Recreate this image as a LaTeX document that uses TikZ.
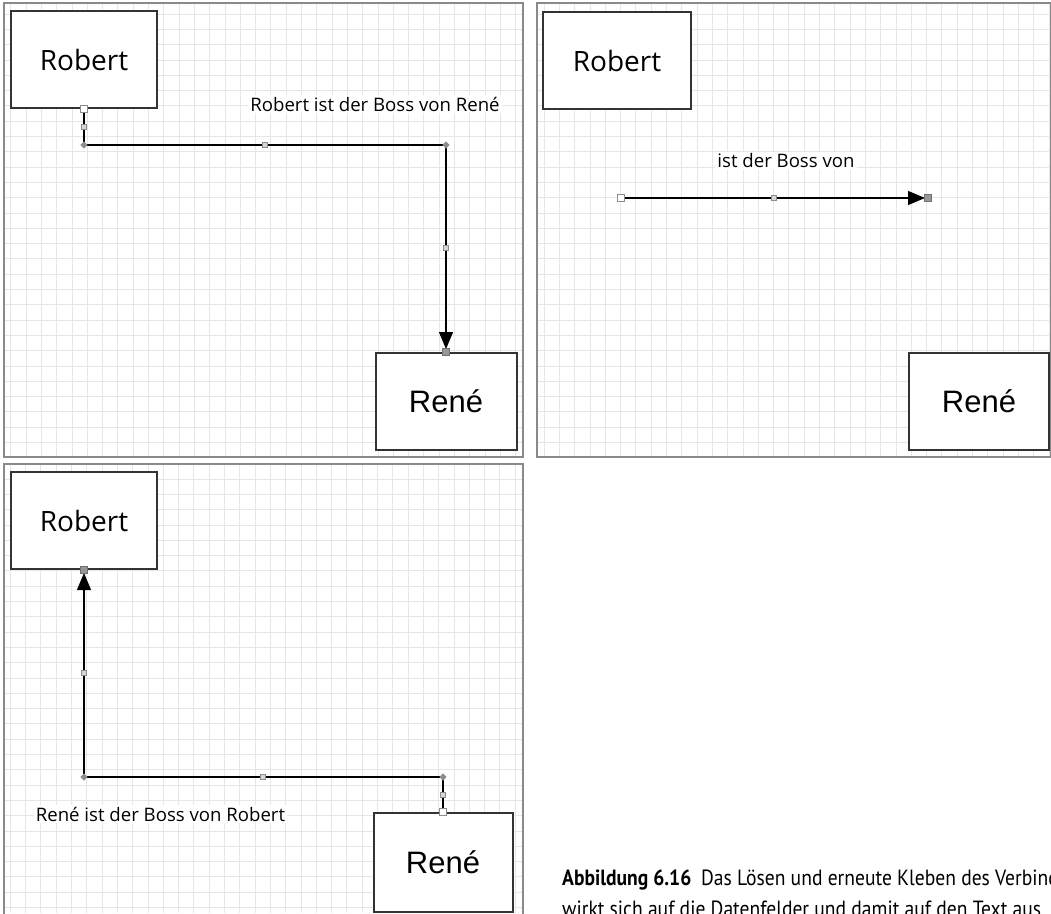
\documentclass[tikz,border=0pt]{standalone}
\usepackage{fontspec}
\setmainfont{Open Sans}
\newfontfamily\arialf{Liberation Sans}
\newfontfamily\capf{PT Sans}
\usetikzlibrary{arrows.meta}
\definecolor{gridc}{HTML}{E6E6E6}
\definecolor{framec}{HTML}{8A8A8A}
\definecolor{boxc}{HTML}{333333}
\definecolor{handc}{HTML}{8C8C8C}
\definecolor{handf}{HTML}{BDBDBD}
\tikzset{
  gridline/.style={draw=gridc, line width=0.8pt},
  panel/.style={draw=framec, line width=1.2pt},
  shapebox/.style={draw=boxc, line width=2pt, fill=white, inner sep=0pt},
  robtext/.style={font=\fontsize{28}{32}\selectfont},
  rentext/.style={font=\arialf\fontsize{31}{35}\selectfont},
  conn/.style={draw=black, line width=1.1pt},
  tip/.style={-{Triangle[length=17pt,width=14pt]}},
  lbl/.style={fill=white, inner sep=2pt, font=\fontsize{18.6}{22}\selectfont},
  hwhite/.style={draw=handc, fill=white, line width=0.9pt, minimum size=7pt, inner sep=0pt},
  hsmall/.style={draw=handc, fill=handf!60, line width=0.7pt, minimum size=5pt, inner sep=0pt},
  hdiam/.style={fill=handc, rotate=45, minimum size=5pt, inner sep=0pt},
  hend/.style={draw=handc!80!black, fill=handc!90, line width=0.7pt, minimum size=7pt, inner sep=0pt},
  captext/.style={anchor=base west, inner sep=0pt, font=\capf\fontsize{22}{26}\selectfont},
}
\begin{document}
\begin{tikzpicture}[x=1pt,y=-1pt]
\useasboundingbox (0,0) rectangle (1051,913);
\clip (0,0) rectangle (1051,913);
\fill[white] (0,0) rectangle (1051,913);

% ---------- grids ----------
\begin{scope}
  \clip (4,3) rectangle (523,457);
  \foreach \i in {0,...,34} {\draw[gridline] ({10.7+15.3*\i},3) -- ({10.7+15.3*\i},457);}
  \foreach \j in {-1,...,30} {\draw[gridline] (4,{14+15.3*\j}) -- (523,{14+15.3*\j});}
\end{scope}
\begin{scope}
  \clip (537,3) rectangle (1051,457);
  \foreach \i in {0,...,34} {\draw[gridline] ({544+15.3*\i},3) -- ({544+15.3*\i},457);}
  \foreach \j in {-1,...,30} {\draw[gridline] (537,{14+15.3*\j}) -- (1051,{14+15.3*\j});}
\end{scope}
\begin{scope}
  \clip (4,464) rectangle (523,913);
  \foreach \i in {0,...,34} {\draw[gridline] ({10.2+15.3*\i},464) -- ({10.2+15.3*\i},913);}
  \foreach \j in {0,...,30} {\draw[gridline] (4,{479+15.3*\j}) -- (523,{479+15.3*\j});}
\end{scope}

% ---------- panel frames ----------
\draw[panel] (4,3) rectangle (523,457);
\draw[panel] (537,3) rectangle (1050.4,457);
\draw[panel] (4,464) rectangle (523,920);

% ---------- panel 1 ----------
\node[shapebox, minimum width=146pt, minimum height=97pt, robtext] (rob1) at (84,59.5) {Robert};
\node[shapebox, minimum width=141pt, minimum height=97pt, rentext] (ren1) at (446,401.5) {René};
\coordinate (c1a) at (84,145);
\coordinate (c1b) at (446,145);
\draw[conn, tip, shorten >=3pt] (rob1.south) -- (c1a) -- (c1b) -- (ren1.north);
\node[lbl] (lbl1) at (375,104) {Robert ist der Boss von René};
\node[hwhite] (h1a) at (rob1.south) {};
\node[hsmall] (h1b) at (84,127) {};
\node[hdiam] (h1c) at (c1a) {};
\node[hsmall] (h1d) at (265,145) {};
\node[hdiam] (h1e) at (c1b) {};
\node[hsmall] (h1f) at (446,248) {};
\node[hend] (h1g) at (ren1.north) {};

% ---------- panel 2 ----------
\node[shapebox, minimum width=148pt, minimum height=97pt, robtext] (rob2) at (617,60.5) {Robert};
\node[shapebox, minimum width=140pt, minimum height=97pt, rentext] (ren2) at (979,401.5) {René};
\coordinate (s2) at (621,198);
\coordinate (e2) at (928,198);
\draw[conn, tip, shorten >=3pt] (s2) -- (e2);
\node[lbl] (lbl2) at (786,161) {ist der Boss von};
\node[hwhite] (h2a) at (s2) {};
\node[hsmall] (h2b) at (774,198) {};
\node[hend] (h2c) at (e2) {};

% ---------- panel 3 ----------
\node[shapebox, minimum width=146pt, minimum height=97pt, robtext] (rob3) at (84,520.5) {Robert};
\node[shapebox, minimum width=139pt, minimum height=99pt, rentext] (ren3) at (443,862.5) {René};
\coordinate (c3a) at (443,777);
\coordinate (c3b) at (84,777);
\draw[conn, tip, shorten >=3pt] (ren3.north) -- (c3a) -- (c3b) -- (rob3.south);
\node[lbl] (lbl3) at (160.5,814) {René ist der Boss von Robert};
\node[hwhite] (h3a) at (ren3.north) {};
\node[hsmall] (h3b) at (443,795) {};
\node[hdiam] (h3c) at (c3a) {};
\node[hsmall] (h3d) at (263,777) {};
\node[hdiam] (h3e) at (c3b) {};
\node[hsmall] (h3f) at (84,673) {};
\node[hend] (h3g) at (rob3.south) {};

% ---------- caption ----------
\node[captext] (cap1) at (562,885.7)
  {\scalebox{0.89}[1]{\textbf{Abbildung 6.16}\hspace{11pt}Das Lösen und erneute Kleben des Verbinders}};
\node[captext] (cap2) at (562,916)
  {\scalebox{0.89}[1]{wirkt sich auf die Datenfelder und damit auf den Text aus}};
\end{tikzpicture}
\end{document}
